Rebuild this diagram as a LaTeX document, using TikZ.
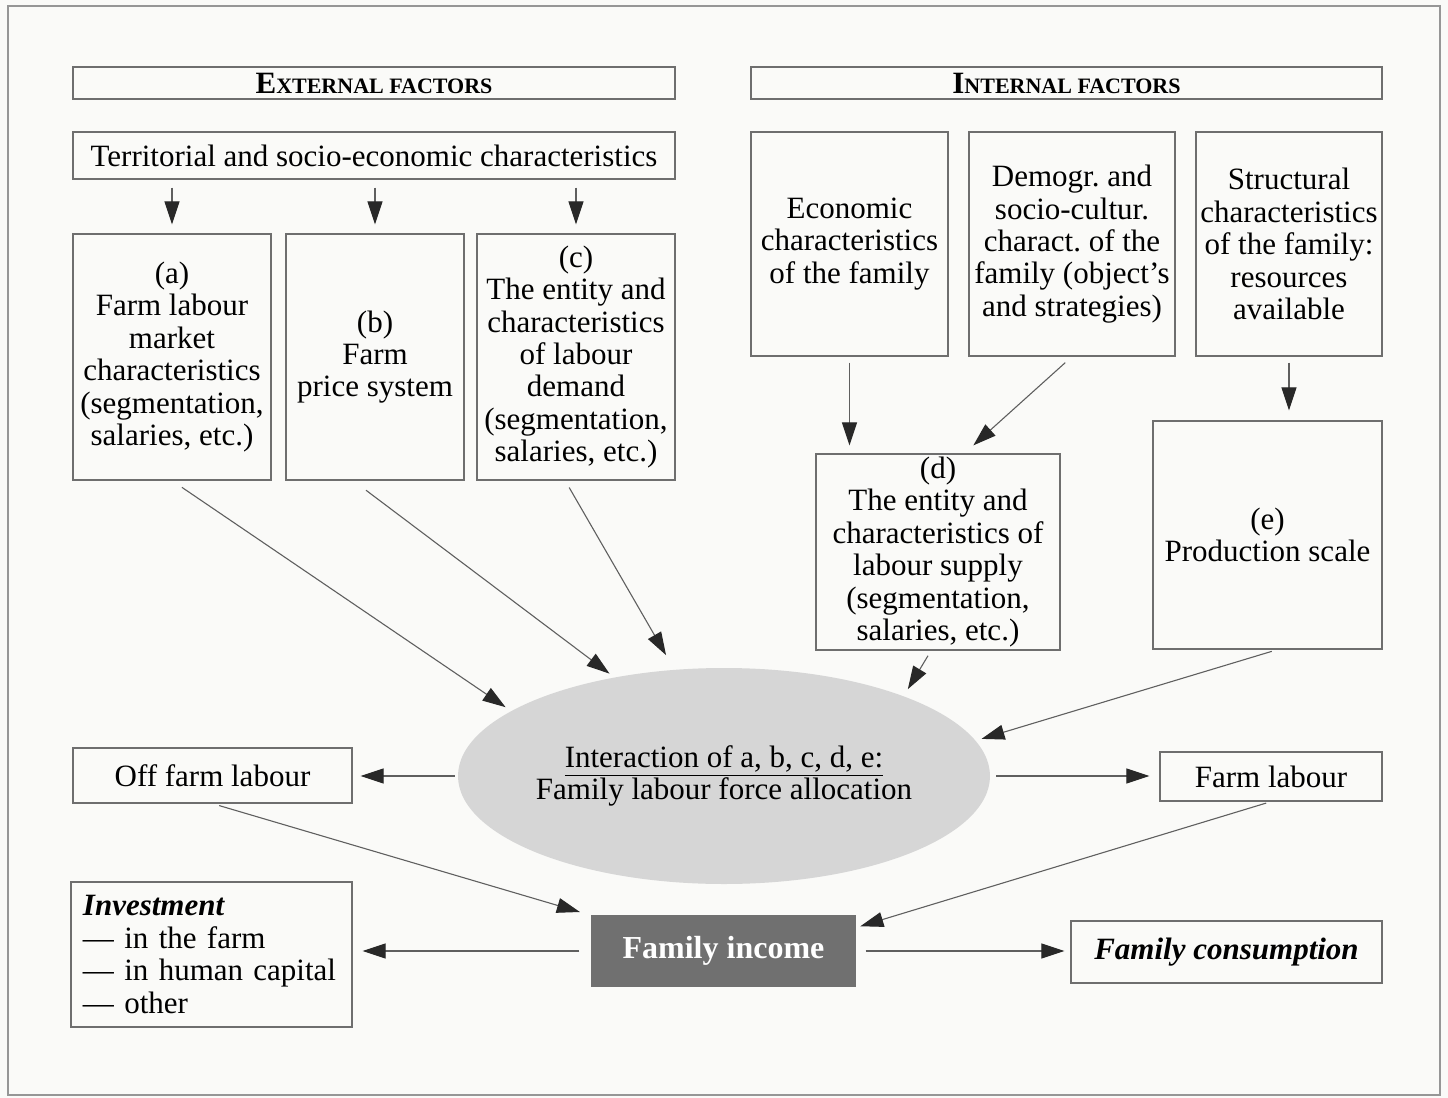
\documentclass[tikz,border=0pt]{standalone}
\usepackage{fontspec}
\setmainfont{Liberation Serif}
\usetikzlibrary{arrows.meta,shapes.geometric,calc}
\definecolor{bgc}{RGB}{250,250,248}
\definecolor{boxline}{RGB}{110,110,110}
\definecolor{arrline}{RGB}{95,95,95}
\definecolor{arrhead}{RGB}{40,40,40}
\definecolor{ellfill}{RGB}{214,214,214}
\definecolor{incfill}{RGB}{112,112,112}
\definecolor{framec}{RGB}{150,150,150}
\frenchspacing
\begin{document}
\begin{tikzpicture}[x=0.5pt,y=-0.5pt,
  txt/.style={font=\fontsize{15.5}{16.2}\selectfont},
  fbox/.style={draw=boxline,line width=0.6pt,inner sep=0pt,align=center,txt},
  arr/.style={draw=arrline,line width=0.55pt,-{Triangle[length=11.5pt,width=7.5pt,color=arrhead]}},
  hdr/.style={fbox,minimum height=16pt}]
\fill[bgc] (0,0) rectangle (1448,1098);
\useasboundingbox (0,0) rectangle (1448,1098);
\draw[framec,line width=1.4pt] (8,6) rectangle (1440,1095);

% headers
\node[hdr,minimum width=301pt] (ext) at (374,83)
  {\bfseries{\fontsize{15.5}{16}\selectfont E}{\fontsize{11}{12}\selectfont XTERNAL FACTORS}};
\node[hdr,minimum width=315.5pt] (int) at (1066.5,83)
  {\bfseries{\fontsize{15.5}{16}\selectfont I}{\fontsize{11}{12}\selectfont NTERNAL FACTORS}};

% external
\node[fbox,minimum width=301pt,minimum height=23.5pt] (terr) at (374,155.5)
  {Territorial and socio-economic characteristics};
\node[fbox,minimum width=99pt,minimum height=123pt] (a) at (172,357)
  {(a)\\Farm labour\\market\\characteristics\\(segmentation,\\salaries, etc.)};
\node[fbox,minimum width=89pt,minimum height=123pt] (b) at (375,357)
  {(b)\\Farm\\price system};
\node[fbox,minimum width=99pt,minimum height=123pt] (c) at (576,357)
  {(c)\\The entity and\\characteristics\\of labour\\demand\\(segmentation,\\salaries, etc.)};

% internal
\node[fbox,minimum width=98.5pt,minimum height=112pt] (econ) at (849.5,244)
  {Economic\\characteristics\\of the family};
\node[fbox,minimum width=103pt,minimum height=112pt] (demo) at (1072,244)
  {Demogr. and\\socio-cultur.\\charact. of the\\family (object’s\\and strategies)};
\node[fbox,minimum width=93pt,minimum height=112pt] (struct) at (1289,244)
  {Structural\\characteristics\\of the family:\\resources\\available};
\node[fbox,minimum width=122pt,minimum height=98pt] (d) at (938,552)
  {(d)\\The entity and\\characteristics of\\labour supply\\(segmentation,\\salaries, etc.)};
\node[fbox,minimum width=114.5pt,minimum height=114pt] (e) at (1267.5,535)
  {(e)\\Production scale};

% centre
\node[ellipse,fill=ellfill,draw=none,minimum width=266pt,minimum height=108pt,
      inner sep=0pt,align=center,txt] (ell) at (724,776)
  {\underline{Interaction of a, b, c, d, e:}\\Family labour force allocation};
\node[fbox,minimum width=139.5pt,minimum height=27.5pt] (off) at (212.5,775.5) {Off farm labour};
\node[fbox,minimum width=111pt,minimum height=24.5pt] (farm) at (1271,776.5) {Farm labour};

% bottom
\node[fbox,align=left,text width=128.5pt,inner xsep=6pt,inner ysep=0pt,minimum height=72.5pt] (inv) at (211.5,954.5)
  {{\bfseries\itshape Investment}\\— in the farm\\— in human capital\\— other};
\node[fbox,fill=incfill,draw=incfill,text=white,font=\fontsize{16}{16.2}\selectfont\bfseries,
      minimum width=131.5pt,minimum height=35pt] (inc) at (723.5,951) {Family income};
\node[fbox,font=\fontsize{15.5}{16.2}\selectfont\bfseries\itshape,
      minimum width=155.5pt,minimum height=31pt] (cons) at (1226.5,952) {Family consumption};

% arrows
\foreach \n in {a,b,c}
  \draw[arr,shorten <=4pt,shorten >=4.5pt] (terr.south -| \n.north) -- (\n.north);
\draw[arr,shorten <=6pt,shorten >=3.3pt] (a.south) -- (ell.163);
\draw[arr,shorten <=8pt,shorten >=3pt] (b.260) -- (ell.138.7);
\draw[arr,shorten <=4pt,shorten >=8.3pt] (c.265) -- (ell.115.6);
\draw[arr,shorten <=3pt,shorten >=4pt] (econ.south) -- (econ.south |- d.north);
\draw[arr,shorten <=4.5pt,shorten >=6pt] (demo.south) -- (d.75);
\draw[arr,shorten <=3pt,shorten >=5pt] (struct.south) -- (struct.south |- e.north);
\draw[arr,shorten <=3pt,shorten >=4pt] (d.266) -- (ell.24);
\draw[arr,shorten <=3pt,shorten >=3pt] (e.275) -- (ell.8);
\draw[arr,shorten <=1.5pt,shorten >=4pt] (ell.west) -- (ell.west -| off.east);
\draw[arr,shorten <=3pt,shorten >=5pt] (ell.east) -- (ell.east -| farm.west);
\draw[arr,shorten <=3.5pt,shorten >=6pt] (off.south) -- (inc.north west);
\draw[arr,shorten <=2.5pt,shorten >=2.5pt] (farm.south) -- (inc.10);
\draw[arr,shorten <=6pt,shorten >=5pt] (inc.west) -- (inc.west -| inv.east);
\draw[arr,shorten <=5pt,shorten >=3pt] (inc.east) -- (inc.east -| cons.west);
\end{tikzpicture}
\end{document}
